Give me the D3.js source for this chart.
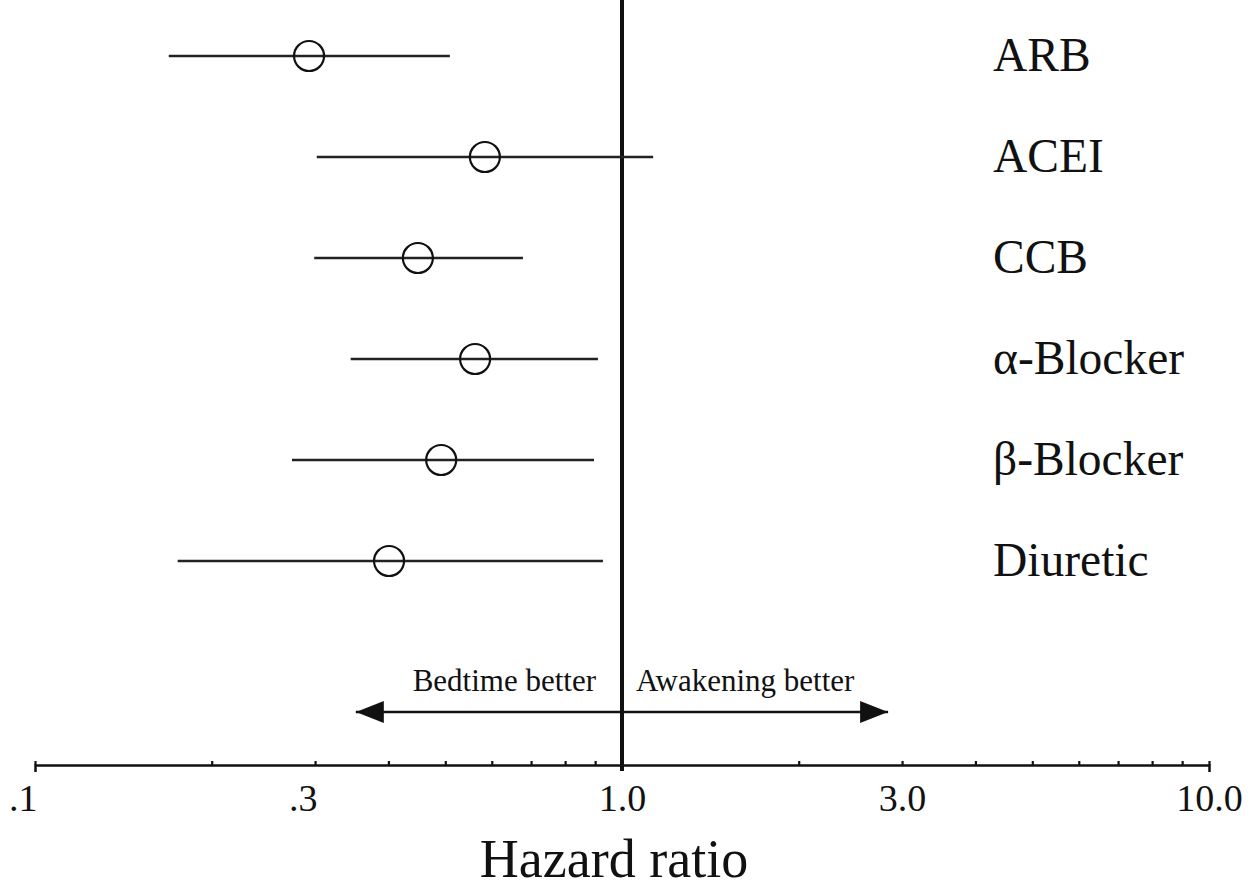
<!DOCTYPE html>
<html>
<head>
<meta charset="utf-8">
<script src="https://cdn.jsdelivr.net/npm/d3@7"></script>
<style>
  body { margin: 0; background: #fff; }
  svg { display: block; font-family: "Liberation Serif", "Times New Roman", serif; }
</style>
</head>
<body>
<svg width="1257" height="888"></svg>
<script>
// drug classes, top to bottom
const drugs = ['ARB', 'ACEI', 'CCB', 'α-Blocker', 'β-Blocker', 'Diuretic']
const hazard = [0.293, 0.584, 0.449, 0.562, 0.492, 0.401]
const lower = [0.169, 0.302, 0.299, 0.345, 0.274, 0.175]
const upper = [0.509, 1.13, 0.678, 0.91, 0.896, 0.928]

const tickValues = [0.1, 0.2, 0.3, 0.4, 0.5, 0.6, 0.7, 0.8, 0.9, 1, 2, 3, 4, 5, 6, 7, 8, 9, 10]
const tickLabels = { 0.1: '.1', 0.3: '.3', 1: '1.0', 3: '3.0', 10: '10.0' }
const arrowRange = [0.352, 2.84]
const arrowText = ['Bedtime better', 'Awakening better']

const svg = d3.select('svg')
const axisY = 765

const x = d3.scaleLog().domain([0.1, 10]).range([35, 1209])
const y = d3.scalePoint().domain(drugs).range([56, 561])

// axis
const axis = d3.axisBottom(x)
    .tickValues(tickValues)
    .tickSizeInner(-4)
    .tickSizeOuter(7)
    .tickPadding(19)
    .tickFormat(d => tickLabels[d] || '')

const gAxis = svg.append('g')
    .attr('transform', `translate(0,${axisY})`)
    .call(axis)

gAxis.select('.domain').attr('stroke', '#111').attr('stroke-width', 2.5)
gAxis.selectAll('.tick line').attr('stroke', '#111').attr('stroke-width', 2.2)
gAxis.selectAll('.tick text')
    .attr('font-size', 38)
    .attr('fill', '#111')
    .attr('font-family', '"Liberation Serif", "Times New Roman", serif')
    .attr('text-anchor', d => d < 1 ? 'end' : 'middle')
    .attr('dx', d => d < 1 ? 2 : 0)

svg.append('text')
    .attr('x', 614)
    .attr('y', 877)
    .attr('text-anchor', 'middle')
    .attr('font-size', 54)
    .attr('fill', '#111')
    .text('Hazard ratio')

// reference line at HR = 1
svg.append('line')
    .attr('x1', x(1)).attr('x2', x(1))
    .attr('y1', 0).attr('y2', axisY + 6)
    .attr('stroke', '#111')
    .attr('stroke-width', 4)

// confidence intervals
svg.append('g').selectAll('line')
    .data(drugs)
    .join('line')
    .attr('x1', (d, i) => x(lower[i]))
    .attr('x2', (d, i) => x(upper[i]))
    .attr('y1', d => y(d))
    .attr('y2', d => y(d))
    .attr('stroke', '#222')
    .attr('stroke-width', 2.4)

svg.append('g').selectAll('circle')
    .data(drugs)
    .join('circle')
    .attr('cx', (d, i) => x(hazard[i]))
    .attr('cy', d => y(d))
    .attr('r', 15)
    .attr('fill', 'none')
    .attr('stroke', '#111')
    .attr('stroke-width', 2.2)

svg.append('g').selectAll('text')
    .data(drugs)
    .join('text')
    .attr('x', 993)
    .attr('y', d => y(d) + 15)
    .attr('font-size', 47.5)
    .attr('fill', '#111')
    .text(d => d)

// direction arrow
const arrowY = 712
svg.append('defs').selectAll('marker')
    .data(['start', 'end'])
    .join('marker')
    .attr('id', d => 'arrow-' + d)
    .attr('viewBox', '0 0 28 22')
    .attr('refX', d => d === 'end' ? 28 : 0)
    .attr('refY', 11)
    .attr('markerWidth', 28)
    .attr('markerHeight', 22)
    .attr('markerUnits', 'userSpaceOnUse')
    .attr('orient', 'auto')
    .append('path')
    .attr('d', d => d === 'end' ? 'M0,0L28,11L0,22Z' : 'M28,0L0,11L28,22Z')
    .attr('fill', '#111')

svg.append('line')
    .attr('x1', x(arrowRange[0])).attr('x2', x(arrowRange[1]))
    .attr('y1', arrowY).attr('y2', arrowY)
    .attr('stroke', '#111')
    .attr('stroke-width', 2.5)
    .attr('marker-start', 'url(#arrow-start)')
    .attr('marker-end', 'url(#arrow-end)')

svg.append('text')
    .attr('x', x(1) - 26)
    .attr('y', 691)
    .attr('text-anchor', 'end')
    .attr('font-size', 31)
    .attr('fill', '#111')
    .text(arrowText[0])

svg.append('text')
    .attr('x', x(1) + 14)
    .attr('y', 691)
    .attr('font-size', 31)
    .attr('fill', '#111')
    .text(arrowText[1])
</script>
</body>
</html>
